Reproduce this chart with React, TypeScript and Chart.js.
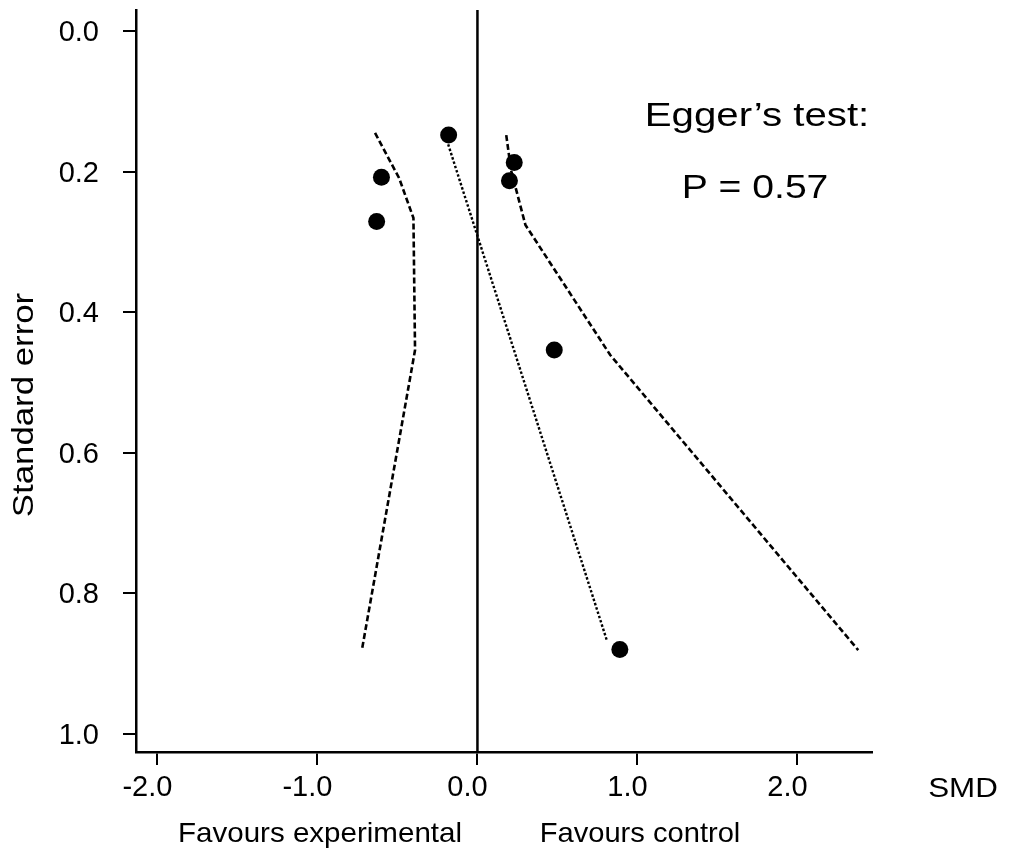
import { useEffect, useRef } from "react";
import { Chart, registerables } from "chart.js";

Chart.register(...registerables);

// Individual studies: standardised mean difference vs standard error
const studySMD = [-0.18, -0.6, -0.63, 0.23, 0.2, 0.48, 0.89];
const studySE = [0.148, 0.208, 0.271, 0.187, 0.213, 0.454, 0.88];

// Dashed pseudo-confidence limits
const lowerLimitSMD = [-0.64, -0.49, -0.4, -0.39, -0.72];
const lowerLimitSE = [0.145, 0.209, 0.266, 0.454, 0.878];
const upperLimitSMD = [0.18, 0.21, 0.3, 0.83, 2.38];
const upperLimitSE = [0.148, 0.198, 0.276, 0.461, 0.881];

// Dotted Egger regression line
const eggerLineSMD = [-0.2, 0.81];
const eggerLineSE = [0.149, 0.868];

// Null effect line
const nullEffectSMD = 0;

// Axes
const xTicks = [-2, -1, 0, 1, 2];
const yTicks = [0, 0.2, 0.4, 0.6, 0.8, 1.0];
const xRange = [-2.134, 2.466];
const yRange = [-0.03, 1.026];

const FONT = '"Liberation Sans", Arial, Helvetica, sans-serif';
const INK = "#000";

const toPoints = (xs: number[], ys: number[]) =>
  xs.map((x, i) => ({ x, y: ys[i] }));

const textPlugin = {
  id: "funnelText",
  afterDraw(chart: any) {
    const ctx = chart.ctx as CanvasRenderingContext2D;
    const draw = (
      text: string,
      x: number,
      y: number,
      size: number,
      sx: number,
      rot = 0
    ) => {
      ctx.save();
      ctx.translate(x, y);
      if (rot) ctx.rotate(rot);
      ctx.scale(sx, 1);
      ctx.font = `${size}px ${FONT}`;
      ctx.fillStyle = INK;
      ctx.textAlign = "center";
      ctx.textBaseline = "alphabetic";
      ctx.fillText(text, 0, 0);
      ctx.restore();
    };
    draw("Egger\u2019s test:", 757, 126, 33, 1.22);
    draw("P = 0.57", 755, 198, 34, 1.15);
    draw("SMD", 963, 797, 28, 1.12);
    draw("Favours experimental", 320, 842, 28, 1.055);
    draw("Favours control", 640, 842, 28, 1.04);
    draw("Standard error", 33, 405, 29, 1.2, -Math.PI / 2);
  },
};

export default function App() {
  const ref = useRef<HTMLCanvasElement | null>(null);

  useEffect(() => {
    if (!ref.current) return;
    const lineBase = {
      type: "scatter" as const,
      showLine: true,
      pointRadius: 0,
      pointHoverRadius: 0,
      borderColor: "#000",
      backgroundColor: "#000",
      fill: false,
      tension: 0,
    };
    const chart = new Chart(ref.current, {
      type: "scatter",
      data: {
        datasets: [
          {
            ...lineBase,
            label: "null",
            data: [
              { x: nullEffectSMD, y: yRange[0] },
              { x: nullEffectSMD, y: yRange[1] },
            ],
            borderWidth: 2.5,
          },
          {
            ...lineBase,
            label: "lower",
            data: toPoints(lowerLimitSMD, lowerLimitSE),
            borderWidth: 2.6,
            borderDash: [6, 3],
          },
          {
            ...lineBase,
            label: "upper",
            data: toPoints(upperLimitSMD, upperLimitSE),
            borderWidth: 2.6,
            borderDash: [6, 3],
          },
          {
            ...lineBase,
            label: "egger",
            data: toPoints(eggerLineSMD, eggerLineSE),
            borderWidth: 2.4,
            borderDash: [2.5, 2],
          },
          {
            type: "scatter",
            label: "studies",
            data: toPoints(studySMD, studySE),
            pointRadius: 8.5,
            pointHoverRadius: 8.5,
            pointBackgroundColor: "#000",
            pointBorderColor: "#000",
            pointBorderWidth: 0,
            showLine: false,
          },
        ],
      },
      options: {
        responsive: false,
        animation: false,
        events: [],
        layout: { padding: { top: 10, right: 143, left: 0, bottom: 0 } },
        plugins: {
          legend: { display: false },
          tooltip: { enabled: false },
          title: { display: false },
        },
        scales: {
          x: {
            type: "linear",
            position: "bottom",
            min: xRange[0],
            max: xRange[1],
            afterBuildTicks: (scale: any) => {
              scale.ticks = xTicks.map((v) => ({ value: v }));
            },
            afterFit: (scale: any) => {
              scale.height = 97;
              scale.paddingLeft = 0;
              scale.paddingRight = 0;
            },
            ticks: {
              callback: (v: any) => Number(v).toFixed(1),
              font: { family: FONT, size: 29 },
              color: INK,
              padding: 6,
              labelOffset: -10,
              maxRotation: 0,
              autoSkip: false,
            },
            grid: {
              display: true,
              drawOnChartArea: false,
              drawTicks: true,
              tickLength: 13,
              color: "#000",
              lineWidth: 2,
            },
            border: { display: true, color: "#000", width: 2.5 },
          },
          y: {
            type: "linear",
            position: "left",
            reverse: true,
            min: yRange[0],
            max: yRange[1],
            afterBuildTicks: (scale: any) => {
              scale.ticks = yTicks.map((v) => ({ value: v }));
            },
            afterFit: (scale: any) => {
              scale.width = 136;
              scale.paddingTop = 0;
              scale.paddingBottom = 0;
            },
            ticks: {
              callback: (v: any) => Number(v).toFixed(1),
              font: { family: FONT, size: 29 },
              color: INK,
              padding: 24,
              labelOffset: 2,
              autoSkip: false,
            },
            grid: {
              display: true,
              drawOnChartArea: false,
              drawTicks: true,
              tickLength: 13,
              color: "#000",
              lineWidth: 2,
            },
            border: { display: true, color: "#000", width: 2.5 },
          },
        },
      },
      plugins: [textPlugin],
    } as any);
    return () => chart.destroy();
  }, []);

  return (
    <div
      style={{
        position: "fixed",
        left: 0,
        top: 0,
        width: 1015,
        height: 849,
        background: "#fff",
      }}
    >
      <canvas
        ref={ref}
        width={1015}
        height={849}
        style={{ display: "block", width: 1015, height: 849 }}
      />
    </div>
  );
}
